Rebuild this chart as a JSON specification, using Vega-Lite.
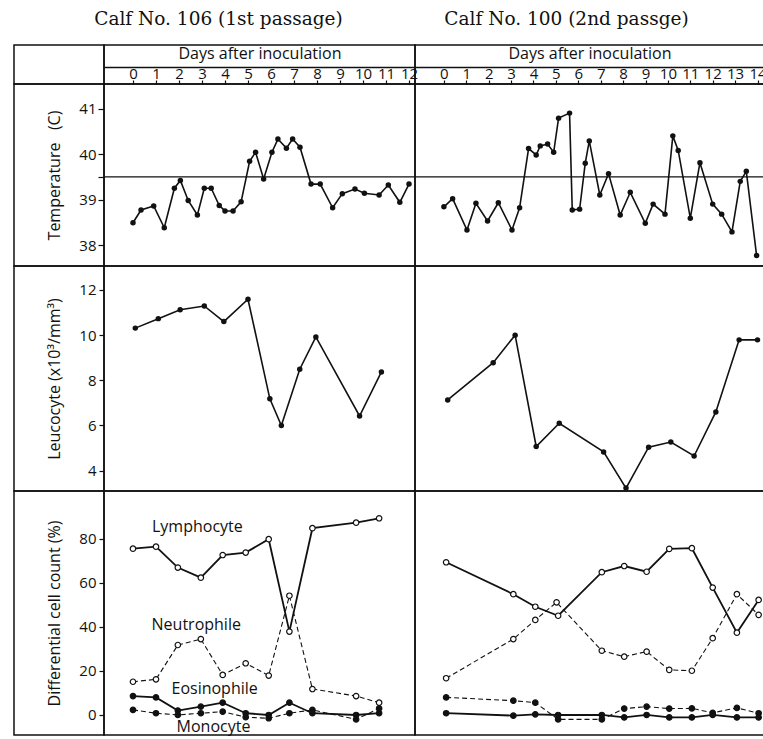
{
  "$schema": "https://vega.github.io/schema/vega-lite/v6.json",
  "background": "white",
  "padding": {"left": 13, "top": 0, "right": 0, "bottom": 0},
  "columns": 3,
  "align": "each",
  "bounds": "flush",
  "spacing": 0,
  "datasets": {
    "temp_left": [
      {"day": 0, "value": 38.49}, {"day": 0.35, "value": 38.77}, {"day": 0.9, "value": 38.86}, {"day": 1.36, "value": 38.38},
      {"day": 1.8, "value": 39.25}, {"day": 2.06, "value": 39.42}, {"day": 2.4, "value": 38.98}, {"day": 2.8, "value": 38.66},
      {"day": 3.1, "value": 39.25}, {"day": 3.4, "value": 39.25}, {"day": 3.75, "value": 38.87}, {"day": 4.0, "value": 38.75},
      {"day": 4.35, "value": 38.75}, {"day": 4.7, "value": 38.95}, {"day": 5.07, "value": 39.84}, {"day": 5.33, "value": 40.04},
      {"day": 5.68, "value": 39.45}, {"day": 6.04, "value": 40.04}, {"day": 6.3, "value": 40.33}, {"day": 6.67, "value": 40.13},
      {"day": 6.94, "value": 40.33}, {"day": 7.26, "value": 40.15}, {"day": 7.74, "value": 39.34}, {"day": 8.14, "value": 39.34},
      {"day": 8.68, "value": 38.82}, {"day": 9.1, "value": 39.13}, {"day": 9.65, "value": 39.23}, {"day": 10.06, "value": 39.14},
      {"day": 10.7, "value": 39.1}, {"day": 11.1, "value": 39.32}, {"day": 11.6, "value": 38.94}, {"day": 12.0, "value": 39.34}
    ],
    "temp_right": [
      {"day": 0.0, "value": 38.84}, {"day": 0.39, "value": 39.02}, {"day": 1.03, "value": 38.33}, {"day": 1.43, "value": 38.92},
      {"day": 1.95, "value": 38.53}, {"day": 2.43, "value": 38.93}, {"day": 3.04, "value": 38.33}, {"day": 3.38, "value": 38.82},
      {"day": 3.78, "value": 40.12}, {"day": 4.12, "value": 39.98}, {"day": 4.3, "value": 40.18}, {"day": 4.63, "value": 40.22},
      {"day": 4.9, "value": 40.04}, {"day": 5.12, "value": 40.79}, {"day": 5.61, "value": 40.9}, {"day": 5.73, "value": 38.77},
      {"day": 6.06, "value": 38.79}, {"day": 6.31, "value": 39.8}, {"day": 6.49, "value": 40.29}, {"day": 6.96, "value": 39.1},
      {"day": 7.35, "value": 39.57}, {"day": 7.87, "value": 38.66}, {"day": 8.32, "value": 39.16}, {"day": 8.99, "value": 38.48},
      {"day": 9.34, "value": 38.9}, {"day": 9.87, "value": 38.68}, {"day": 10.22, "value": 40.4}, {"day": 10.46, "value": 40.08},
      {"day": 11.0, "value": 38.59}, {"day": 11.43, "value": 39.81}, {"day": 12.0, "value": 38.9}, {"day": 12.4, "value": 38.68},
      {"day": 12.86, "value": 38.29}, {"day": 13.23, "value": 39.4}, {"day": 13.5, "value": 39.62}, {"day": 13.96, "value": 37.77}
    ],
    "leuc_left": [
      {"day": 0.1, "value": 10.31}, {"day": 1.1, "value": 10.73}, {"day": 2.05, "value": 11.12}, {"day": 3.1, "value": 11.29},
      {"day": 3.95, "value": 10.6}, {"day": 5.0, "value": 11.59}, {"day": 5.95, "value": 7.18}, {"day": 6.45, "value": 6.0},
      {"day": 7.25, "value": 8.49}, {"day": 7.95, "value": 9.92}, {"day": 9.85, "value": 6.42}, {"day": 10.8, "value": 8.37}
    ],
    "leuc_right": [
      {"day": 0.17, "value": 7.13}, {"day": 2.2, "value": 8.78}, {"day": 3.18, "value": 10.0}, {"day": 4.12, "value": 5.07},
      {"day": 5.15, "value": 6.1}, {"day": 7.13, "value": 4.83}, {"day": 8.13, "value": 3.23}, {"day": 9.14, "value": 5.04},
      {"day": 10.13, "value": 5.27}, {"day": 11.17, "value": 4.65}, {"day": 12.14, "value": 6.6}, {"day": 13.18, "value": 9.79},
      {"day": 14.0, "value": 9.79}
    ],
    "diff_left": [
      {"series": "Lymphocyte", "day": 0, "value": 75.6}, {"series": "Lymphocyte", "day": 1, "value": 76.5},
      {"series": "Lymphocyte", "day": 1.95, "value": 67.0}, {"series": "Lymphocyte", "day": 2.95, "value": 62.4},
      {"series": "Lymphocyte", "day": 3.9, "value": 72.7}, {"series": "Lymphocyte", "day": 4.9, "value": 73.8},
      {"series": "Lymphocyte", "day": 5.9, "value": 79.9}, {"series": "Lymphocyte", "day": 6.8, "value": 37.9},
      {"series": "Lymphocyte", "day": 7.8, "value": 84.9}, {"series": "Lymphocyte", "day": 9.7, "value": 87.4},
      {"series": "Lymphocyte", "day": 10.7, "value": 89.4},
      {"series": "Neutrophile", "day": 0, "value": 15.1}, {"series": "Neutrophile", "day": 1, "value": 16.2},
      {"series": "Neutrophile", "day": 1.95, "value": 31.8}, {"series": "Neutrophile", "day": 2.95, "value": 34.5},
      {"series": "Neutrophile", "day": 3.9, "value": 18.2}, {"series": "Neutrophile", "day": 4.9, "value": 23.5},
      {"series": "Neutrophile", "day": 5.9, "value": 17.9}, {"series": "Neutrophile", "day": 6.8, "value": 54.2},
      {"series": "Neutrophile", "day": 7.8, "value": 11.8}, {"series": "Neutrophile", "day": 9.7, "value": 8.6},
      {"series": "Neutrophile", "day": 10.7, "value": 5.6},
      {"series": "Eosinophile", "day": 0, "value": 8.6}, {"series": "Eosinophile", "day": 1, "value": 8.0},
      {"series": "Eosinophile", "day": 1.95, "value": 2.0}, {"series": "Eosinophile", "day": 2.95, "value": 3.8},
      {"series": "Eosinophile", "day": 3.9, "value": 5.6}, {"series": "Eosinophile", "day": 4.9, "value": 0.8},
      {"series": "Eosinophile", "day": 5.9, "value": 0.0}, {"series": "Eosinophile", "day": 6.8, "value": 5.6},
      {"series": "Eosinophile", "day": 7.8, "value": 0.8}, {"series": "Eosinophile", "day": 9.7, "value": 0.0},
      {"series": "Eosinophile", "day": 10.7, "value": 0.8},
      {"series": "Monocyte", "day": 0, "value": 2.3}, {"series": "Monocyte", "day": 1, "value": 0.8},
      {"series": "Monocyte", "day": 1.95, "value": 0.0}, {"series": "Monocyte", "day": 2.95, "value": 0.8},
      {"series": "Monocyte", "day": 3.9, "value": 1.5}, {"series": "Monocyte", "day": 4.9, "value": -1.0},
      {"series": "Monocyte", "day": 5.9, "value": -1.5}, {"series": "Monocyte", "day": 6.8, "value": 0.8},
      {"series": "Monocyte", "day": 7.8, "value": 2.3}, {"series": "Monocyte", "day": 9.7, "value": -2.0},
      {"series": "Monocyte", "day": 10.7, "value": 3.0}
    ],
    "diff_right": [
      {"series": "Lymphocyte", "day": 0.1, "value": 69.4}, {"series": "Lymphocyte", "day": 3.1, "value": 54.9},
      {"series": "Lymphocyte", "day": 4.08, "value": 49.2}, {"series": "Lymphocyte", "day": 5.1, "value": 45.1},
      {"series": "Lymphocyte", "day": 7.05, "value": 64.9}, {"series": "Lymphocyte", "day": 8.05, "value": 67.7},
      {"series": "Lymphocyte", "day": 9.05, "value": 65.1}, {"series": "Lymphocyte", "day": 10.06, "value": 75.5},
      {"series": "Lymphocyte", "day": 11.07, "value": 75.8}, {"series": "Lymphocyte", "day": 12.0, "value": 57.9},
      {"series": "Lymphocyte", "day": 13.08, "value": 37.4}, {"series": "Lymphocyte", "day": 14.05, "value": 52.3},
      {"series": "Neutrophile", "day": 0.1, "value": 16.7}, {"series": "Neutrophile", "day": 3.1, "value": 34.5},
      {"series": "Neutrophile", "day": 4.08, "value": 43.2}, {"series": "Neutrophile", "day": 5.03, "value": 51.2},
      {"series": "Neutrophile", "day": 7.05, "value": 29.2}, {"series": "Neutrophile", "day": 8.05, "value": 26.5},
      {"series": "Neutrophile", "day": 9.05, "value": 28.8}, {"series": "Neutrophile", "day": 10.06, "value": 20.5},
      {"series": "Neutrophile", "day": 11.07, "value": 20.1}, {"series": "Neutrophile", "day": 12.0, "value": 34.9},
      {"series": "Neutrophile", "day": 13.08, "value": 54.9}, {"series": "Neutrophile", "day": 14.05, "value": 45.5},
      {"series": "Eosinophile", "day": 0.1, "value": 8.0}, {"series": "Eosinophile", "day": 3.1, "value": 6.5},
      {"series": "Eosinophile", "day": 4.08, "value": 5.6}, {"series": "Eosinophile", "day": 5.1, "value": -2.0},
      {"series": "Eosinophile", "day": 7.05, "value": -2.0}, {"series": "Eosinophile", "day": 8.05, "value": 2.9},
      {"series": "Eosinophile", "day": 9.05, "value": 3.8}, {"series": "Eosinophile", "day": 10.06, "value": 2.9},
      {"series": "Eosinophile", "day": 11.07, "value": 3.0}, {"series": "Eosinophile", "day": 12.0, "value": 1.0},
      {"series": "Eosinophile", "day": 13.08, "value": 3.2}, {"series": "Eosinophile", "day": 14.05, "value": 0.8},
      {"series": "Monocyte", "day": 0.1, "value": 0.8}, {"series": "Monocyte", "day": 3.1, "value": -0.3},
      {"series": "Monocyte", "day": 4.08, "value": 0.3}, {"series": "Monocyte", "day": 5.1, "value": 0.0},
      {"series": "Monocyte", "day": 7.05, "value": 0.0}, {"series": "Monocyte", "day": 8.05, "value": -1.1},
      {"series": "Monocyte", "day": 9.05, "value": 0.0}, {"series": "Monocyte", "day": 10.06, "value": -1.1},
      {"series": "Monocyte", "day": 11.07, "value": -1.1}, {"series": "Monocyte", "day": 12.0, "value": 0.0},
      {"series": "Monocyte", "day": 13.08, "value": -1.1}, {"series": "Monocyte", "day": 14.05, "value": -1.1}
    ],
    "diff_labels": [
      {"label": "Lymphocyte", "day": 2.8, "value": 85.5},
      {"label": "Neutrophile", "day": 2.75, "value": 40.9},
      {"label": "Eosinophile", "day": 3.55, "value": 11.8},
      {"label": "Monocyte", "day": 3.5, "value": -5.5}
    ],
    "refline": [{"ref": 39.5}],
    "cell": [{"v": 0}]
  },
  "concat": [
    {"width": 90, "height": 45, "view": {"stroke": null}, "data": {"values": [{"t": ""}]}, "mark": {"type": "text"}, "encoding": {"text": {"field": "t"}}},
    {"width": 311, "height": 45, "view": {"stroke": null}, "data": {"values": [{"t": "Calf No. 106 (1st passage)"}]}, "mark": {"type": "text", "font": "DejaVu Serif", "fontSize": 18.5, "dx": -41, "dy": -4, "color": "#111"}, "encoding": {"text": {"field": "t"}}},
    {"width": 349, "height": 45, "view": {"stroke": null}, "data": {"values": [{"t": "Calf No. 100 (2nd passge)"}]}, "mark": {"type": "text", "font": "DejaVu Serif", "fontSize": 18.5, "dx": -23, "dy": -4, "color": "#111"}, "encoding": {"text": {"field": "t"}}},

    {"width": 90, "height": 39, "data": {"name": "cell"}, "mark": {"type": "point", "opacity": 0}, "encoding": {"x": {"field": "v", "type": "quantitative", "axis": null}, "y": {"field": "v", "type": "quantitative", "axis": null}}},
    {"width": 311, "height": 39, "data": {"name": "cell"}, "mark": {"type": "point", "opacity": 0}, "encoding": {"x": {"field": "v", "type": "quantitative", "axis": null}, "y": {"field": "v", "type": "quantitative", "axis": null}}},
    {"width": 349, "height": 39, "data": {"name": "cell"}, "mark": {"type": "point", "opacity": 0}, "encoding": {"x": {"field": "v", "type": "quantitative", "axis": null}, "y": {"field": "v", "type": "quantitative", "axis": null}}},

    {"width": 90, "height": 182, "data": {"name": "cell"}, "mark": {"type": "point", "opacity": 0}, "encoding": {"x": {"field": "v", "type": "quantitative", "axis": null}, "y": {"field": "v", "type": "quantitative", "axis": null}}},
    {
      "width": 311, "height": 182,
      "resolve": {"axis": {"x": "independent"}},
      "layer": [
        {"data": {"name": "refline"}, "mark": {"type": "rule", "color": "#111", "strokeWidth": 1.2},
         "encoding": {"y": {"field": "ref", "type": "quantitative"}}},
        {"data": {"name": "temp_left"}, "mark": {"type": "line", "color": "#111", "strokeWidth": 1.6},
         "encoding": {
           "x": {"field": "day", "type": "quantitative", "scale": {"domain": [-1.26, 12.26], "nice": false, "zero": false},
                 "axis": {"orient": "top", "values": [0,1,2,3,4,5,6,7,8,9,10,11,12], "tickSize": 4, "labelPadding": -1, "title": "Days after inoculation", "titlePadding": 5, "labelFlush": false}},
           "y": {"field": "value", "type": "quantitative", "scale": {"domain": [37.54, 41.54], "nice": false, "zero": false},
                 "axis": {"values": [38, 39, 39.5, 40, 41], "labelExpr": "datum.value == 39.5 ? '' : datum.label", "tickSize": 6, "labelPadding": 2, "title": "Temperature\u00a0\u00a0\u00a0(C)", "titlePadding": 16}}
         }},
        {"data": {"name": "temp_left"}, "mark": {"type": "point", "filled": true, "color": "#111", "size": 30, "opacity": 1},
         "encoding": {
           "x": {"field": "day", "type": "quantitative", "axis": {"orient": "top", "offset": 17, "domain": true, "domainColor": "#111", "domainWidth": 1.5, "ticks": false, "labels": false, "title": null}},
           "y": {"field": "value", "type": "quantitative"}}}
      ]
    },
    {
      "width": 349, "height": 182,
      "resolve": {"axis": {"x": "independent"}},
      "layer": [
        {"data": {"name": "refline"}, "mark": {"type": "rule", "color": "#111", "strokeWidth": 1.2},
         "encoding": {"y": {"field": "ref", "type": "quantitative", "axis": null}}},
        {"data": {"name": "temp_right"}, "mark": {"type": "line", "color": "#111", "strokeWidth": 1.6},
         "encoding": {
           "x": {"field": "day", "type": "quantitative", "scale": {"domain": [-1.29, 14.29], "nice": false, "zero": false},
                 "axis": {"orient": "top", "values": [0,1,2,3,4,5,6,7,8,9,10,11,12,13,14], "tickSize": 4, "labelPadding": -1, "title": "Days after inoculation", "titlePadding": 5, "labelFlush": false}},
           "y": {"field": "value", "type": "quantitative", "scale": {"domain": [37.54, 41.54], "nice": false, "zero": false}, "axis": null}
         }},
        {"data": {"name": "temp_right"}, "mark": {"type": "point", "filled": true, "color": "#111", "size": 30, "opacity": 1},
         "encoding": {
           "x": {"field": "day", "type": "quantitative", "axis": {"orient": "top", "offset": 17, "domain": true, "domainColor": "#111", "domainWidth": 1.5, "ticks": false, "labels": false, "title": null}},
           "y": {"field": "value", "type": "quantitative", "axis": null}}}
      ]
    },

    {"width": 90, "height": 225, "data": {"name": "cell"}, "mark": {"type": "point", "opacity": 0}, "encoding": {"x": {"field": "v", "type": "quantitative", "axis": null}, "y": {"field": "v", "type": "quantitative", "axis": null}}},
    {
      "width": 311, "height": 225, "data": {"name": "leuc_left"},
      "layer": [
        {"mark": {"type": "line", "color": "#111", "strokeWidth": 1.6},
         "encoding": {
           "x": {"field": "day", "type": "quantitative", "scale": {"domain": [-1.26, 12.26], "nice": false, "zero": false}, "axis": null},
           "y": {"field": "value", "type": "quantitative", "scale": {"domain": [3.1, 13.06], "nice": false, "zero": false},
                 "axis": {"values": [4,5,6,7,8,9,10,11,12], "labelExpr": "datum.value % 2 == 0 ? datum.label : ''",
                          "tickSize": 5, "labelPadding": 3, "title": "Leucocyte (x10³/mm³)", "titlePadding": 16}}
         }},
        {"mark": {"type": "point", "filled": true, "color": "#111", "size": 30, "opacity": 1},
         "encoding": {"x": {"field": "day", "type": "quantitative"}, "y": {"field": "value", "type": "quantitative"}}}
      ]
    },
    {
      "width": 349, "height": 225, "data": {"name": "leuc_right"},
      "layer": [
        {"mark": {"type": "line", "color": "#111", "strokeWidth": 1.6},
         "encoding": {
           "x": {"field": "day", "type": "quantitative", "scale": {"domain": [-1.29, 14.29], "nice": false, "zero": false}, "axis": null},
           "y": {"field": "value", "type": "quantitative", "scale": {"domain": [3.1, 13.06], "nice": false, "zero": false}, "axis": null}
         }},
        {"mark": {"type": "point", "filled": true, "color": "#111", "size": 30, "opacity": 1},
         "encoding": {"x": {"field": "day", "type": "quantitative", "axis": null}, "y": {"field": "value", "type": "quantitative", "axis": null}}}
      ]
    },

    {"width": 90, "height": 244, "data": {"name": "cell"}, "mark": {"type": "point", "opacity": 0}, "encoding": {"x": {"field": "v", "type": "quantitative", "axis": null}, "y": {"field": "v", "type": "quantitative", "axis": null}}},
    {
      "width": 311, "height": 244,
      "layer": [
        {"data": {"name": "diff_left"}, "transform": [{"filter": {"field": "series", "oneOf": ["Lymphocyte", "Eosinophile"]}}],
         "mark": {"type": "line", "color": "#111", "strokeWidth": 1.8},
         "encoding": {
           "x": {"field": "day", "type": "quantitative", "scale": {"domain": [-1.26, 12.26], "nice": false, "zero": false}, "axis": null},
           "y": {"field": "value", "type": "quantitative", "scale": {"domain": [-9.1, 101.8], "nice": false, "zero": false},
                 "axis": {"values": [0,10,20,30,40,50,60,70,80,90], "labelExpr": "datum.value % 20 == 0 ? datum.label : ''",
                          "tickSize": 5, "labelPadding": 3, "title": "Differential cell count (%)", "titlePadding": 16}},
           "detail": {"field": "series"}
         }},
        {"data": {"name": "diff_left"}, "transform": [{"filter": {"field": "series", "oneOf": ["Neutrophile", "Monocyte"]}}],
         "mark": {"type": "line", "color": "#111", "strokeWidth": 1.1, "strokeDash": [5, 3]},
         "encoding": {
           "x": {"field": "day", "type": "quantitative"},
           "y": {"field": "value", "type": "quantitative"},
           "detail": {"field": "series"}
         }},
        {"data": {"name": "diff_left"}, "mark": {"type": "point", "filled": true, "stroke": "#111", "strokeWidth": 1.2, "size": 30, "opacity": 1},
         "encoding": {
           "x": {"field": "day", "type": "quantitative"},
           "y": {"field": "value", "type": "quantitative"},
           "fill": {"field": "series", "type": "nominal", "scale": {"domain": ["Lymphocyte", "Neutrophile", "Eosinophile", "Monocyte"], "range": ["white", "white", "#111", "#111"]}, "legend": null}
         }},
        {"data": {"name": "diff_labels"}, "mark": {"type": "text", "font": "Open Sans", "fontSize": 16, "color": "#111"},
         "encoding": {
           "x": {"field": "day", "type": "quantitative"},
           "y": {"field": "value", "type": "quantitative"},
           "text": {"field": "label"}
         }}
      ]
    },
    {
      "width": 349, "height": 244,
      "layer": [
        {"data": {"name": "diff_right"}, "transform": [{"filter": {"field": "series", "oneOf": ["Lymphocyte", "Monocyte"]}}],
         "mark": {"type": "line", "color": "#111", "strokeWidth": 1.8},
         "encoding": {
           "x": {"field": "day", "type": "quantitative", "scale": {"domain": [-1.29, 14.29], "nice": false, "zero": false}, "axis": null},
           "y": {"field": "value", "type": "quantitative", "scale": {"domain": [-9.1, 101.8], "nice": false, "zero": false}, "axis": null},
           "detail": {"field": "series"}
         }},
        {"data": {"name": "diff_right"}, "transform": [{"filter": {"field": "series", "oneOf": ["Neutrophile", "Eosinophile"]}}],
         "mark": {"type": "line", "color": "#111", "strokeWidth": 1.1, "strokeDash": [5, 3]},
         "encoding": {
           "x": {"field": "day", "type": "quantitative", "axis": null},
           "y": {"field": "value", "type": "quantitative", "axis": null},
           "detail": {"field": "series"}
         }},
        {"data": {"name": "diff_right"}, "mark": {"type": "point", "filled": true, "stroke": "#111", "strokeWidth": 1.2, "size": 30, "opacity": 1},
         "encoding": {
           "x": {"field": "day", "type": "quantitative", "axis": null},
           "y": {"field": "value", "type": "quantitative", "axis": null},
           "fill": {"field": "series", "type": "nominal", "scale": {"domain": ["Lymphocyte", "Neutrophile", "Eosinophile", "Monocyte"], "range": ["white", "white", "#111", "#111"]}, "legend": null}
         }}
      ]
    }
  ],
  "config": {
    "view": {"stroke": "#111", "strokeWidth": 1.5},
    "concat": {"spacing": 0},
    "axis": {"grid": false, "domain": false, "tickColor": "#111", "tickWidth": 1.2, "labelColor": "#111", "titleColor": "#111",
             "labelFont": "Open Sans", "titleFont": "Open Sans", "labelFontSize": 15, "titleFontSize": 16, "titleFontWeight": "normal"},
    "text": {"font": "Open Sans", "color": "#111"}
  }
}
